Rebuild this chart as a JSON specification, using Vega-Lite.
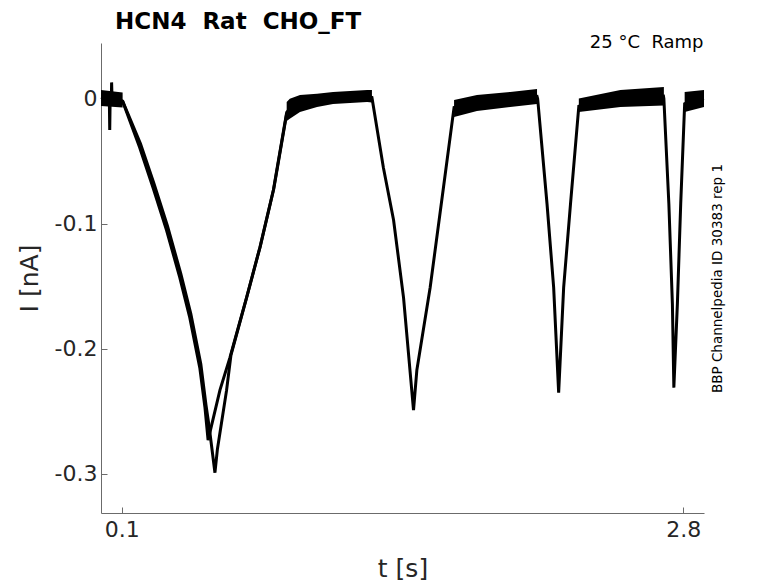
{
  "$schema": "https://vega.github.io/schema/vega-lite/v6.json",
  "width": 603,
  "height": 470,
  "autosize": {"type": "none"},
  "padding": {"left": 101, "top": 43, "right": 74, "bottom": 70},
  "background": "white",
  "config": {
    "view": {"stroke": null},
    "font": "DejaVu Sans"
  },
  "title": {
    "text": "HCN4\u00a0 Rat\u00a0 CHO_FT",
    "anchor": "start",
    "frame": "group",
    "font": "DejaVu Sans",
    "fontSize": 23,
    "fontWeight": "bold",
    "color": "#000000",
    "baseline": "alphabetic",
    "dx": 14,
    "offset": -19
  },
  "datasets": {
    "trace": [
      {"sweep": "a", "t": 0.000, "i": 0.0010},
      {"sweep": "a", "t": 0.020, "i": 0.0000},
      {"sweep": "a", "t": 0.040, "i": 0.0010},
      {"sweep": "a", "t": 0.042, "i": -0.0250},
      {"sweep": "a", "t": 0.044, "i": 0.0000},
      {"sweep": "a", "t": 0.050, "i": 0.0020},
      {"sweep": "a", "t": 0.051, "i": 0.0130},
      {"sweep": "a", "t": 0.053, "i": 0.0010},
      {"sweep": "a", "t": 0.080, "i": 0.0000},
      {"sweep": "a", "t": 0.104, "i": -0.0020},
      {"sweep": "a", "t": 0.186, "i": -0.0390},
      {"sweep": "a", "t": 0.250, "i": -0.0710},
      {"sweep": "a", "t": 0.315, "i": -0.1050},
      {"sweep": "a", "t": 0.379, "i": -0.1430},
      {"sweep": "a", "t": 0.427, "i": -0.1750},
      {"sweep": "a", "t": 0.475, "i": -0.2150},
      {"sweep": "a", "t": 0.500, "i": -0.2470},
      {"sweep": "a", "t": 0.515, "i": -0.2730},
      {"sweep": "a", "t": 0.572, "i": -0.2330},
      {"sweep": "a", "t": 0.620, "i": -0.2070},
      {"sweep": "a", "t": 0.700, "i": -0.1590},
      {"sweep": "a", "t": 0.764, "i": -0.1190},
      {"sweep": "a", "t": 0.829, "i": -0.0730},
      {"sweep": "a", "t": 0.893, "i": -0.0110},
      {"sweep": "a", "t": 0.908, "i": -0.0080},
      {"sweep": "a", "t": 0.957, "i": -0.0038},
      {"sweep": "a", "t": 1.039, "i": -0.0013},
      {"sweep": "a", "t": 1.116, "i": 0.0006},
      {"sweep": "a", "t": 1.280, "i": 0.0022},
      {"sweep": "a", "t": 1.303, "i": 0.0010},
      {"sweep": "a", "t": 1.358, "i": -0.0550},
      {"sweep": "a", "t": 1.407, "i": -0.0970},
      {"sweep": "a", "t": 1.455, "i": -0.1590},
      {"sweep": "a", "t": 1.503, "i": -0.2490},
      {"sweep": "a", "t": 1.519, "i": -0.2170},
      {"sweep": "a", "t": 1.583, "i": -0.1510},
      {"sweep": "a", "t": 1.647, "i": -0.0710},
      {"sweep": "a", "t": 1.698, "i": -0.0070},
      {"sweep": "a", "t": 1.808, "i": -0.0034},
      {"sweep": "a", "t": 1.968, "i": -0.0006},
      {"sweep": "a", "t": 2.097, "i": 0.0018},
      {"sweep": "a", "t": 2.100, "i": 0.0000},
      {"sweep": "a", "t": 2.145, "i": -0.0840},
      {"sweep": "a", "t": 2.177, "i": -0.1510},
      {"sweep": "a", "t": 2.201, "i": -0.2350},
      {"sweep": "a", "t": 2.225, "i": -0.1510},
      {"sweep": "a", "t": 2.258, "i": -0.0840},
      {"sweep": "a", "t": 2.298, "i": -0.0060},
      {"sweep": "a", "t": 2.498, "i": 0.0002},
      {"sweep": "a", "t": 2.705, "i": 0.0020},
      {"sweep": "a", "t": 2.707, "i": 0.0000},
      {"sweep": "a", "t": 2.731, "i": -0.0840},
      {"sweep": "a", "t": 2.748, "i": -0.1640},
      {"sweep": "a", "t": 2.755, "i": -0.2310},
      {"sweep": "a", "t": 2.772, "i": -0.1640},
      {"sweep": "a", "t": 2.788, "i": -0.0840},
      {"sweep": "a", "t": 2.807, "i": -0.0040},
      {"sweep": "a", "t": 2.850, "i": -0.0010},
      {"sweep": "a", "t": 2.900, "i": 0.0002},
      {"sweep": "b", "t": 0.104, "i": -0.0020},
      {"sweep": "b", "t": 0.190, "i": -0.0360},
      {"sweep": "b", "t": 0.255, "i": -0.0680},
      {"sweep": "b", "t": 0.320, "i": -0.1020},
      {"sweep": "b", "t": 0.384, "i": -0.1400},
      {"sweep": "b", "t": 0.432, "i": -0.1720},
      {"sweep": "b", "t": 0.480, "i": -0.2120},
      {"sweep": "b", "t": 0.505, "i": -0.2450},
      {"sweep": "b", "t": 0.520, "i": -0.2620},
      {"sweep": "b", "t": 0.548, "i": -0.2990},
      {"sweep": "b", "t": 0.560, "i": -0.2800},
      {"sweep": "b", "t": 0.604, "i": -0.2330},
      {"sweep": "b", "t": 0.625, "i": -0.2050},
      {"sweep": "b", "t": 0.702, "i": -0.1580},
      {"sweep": "b", "t": 0.766, "i": -0.1180},
      {"sweep": "b", "t": 0.831, "i": -0.0720},
      {"sweep": "b", "t": 0.893, "i": -0.0120}
    ],
    "noise": [
      {"seg": "p1", "t": 0.000, "lo": -0.0058, "hi": 0.0070},
      {"seg": "p1", "t": 0.104, "lo": -0.0070, "hi": 0.0050},
      {"seg": "p2", "t": 0.893, "lo": -0.0178, "hi": -0.0026},
      {"seg": "p2", "t": 0.908, "lo": -0.0160, "hi": 0.0000},
      {"seg": "p2", "t": 0.957, "lo": -0.0106, "hi": 0.0030},
      {"seg": "p2", "t": 1.039, "lo": -0.0066, "hi": 0.0040},
      {"seg": "p2", "t": 1.116, "lo": -0.0042, "hi": 0.0054},
      {"seg": "p2", "t": 1.280, "lo": -0.0026, "hi": 0.0070},
      {"seg": "p2", "t": 1.303, "lo": -0.0030, "hi": 0.0070},
      {"seg": "p3", "t": 1.698, "lo": -0.0146, "hi": -0.0010},
      {"seg": "p3", "t": 1.808, "lo": -0.0098, "hi": 0.0030},
      {"seg": "p3", "t": 1.968, "lo": -0.0066, "hi": 0.0054},
      {"seg": "p3", "t": 2.097, "lo": -0.0042, "hi": 0.0078},
      {"seg": "p4", "t": 2.298, "lo": -0.0106, "hi": 0.0001},
      {"seg": "p4", "t": 2.498, "lo": -0.0066, "hi": 0.0070},
      {"seg": "p4", "t": 2.707, "lo": -0.0055, "hi": 0.0094},
      {"seg": "p5", "t": 2.807, "lo": -0.0106, "hi": 0.0054},
      {"seg": "p5", "t": 2.900, "lo": -0.0066, "hi": 0.0070}
    ]
  },
  "layer": [
    {
      "data": {"name": "noise"},
      "mark": {"type": "area", "color": "#000000", "opacity": 1},
      "encoding": {
        "x": {
          "field": "t",
          "type": "quantitative",
          "scale": {"domain": [0, 2.9], "nice": false, "zero": false},
          "axis": {
            "orient": "top",
            "title": "25 °C\u00a0 Ramp",
            "labels": false,
            "ticks": false,
            "domain": false,
            "grid": false,
            "titleFont": "DejaVu Sans",
            "titleFontSize": 18,
            "titleFontWeight": "normal",
            "titleColor": "#000000",
            "titleAlign": "right",
            "titleBaseline": "alphabetic",
            "titleAnchor": "end",
            "titleX": 602,
            "titleY": 4
          }
        },
        "y": {
          "field": "lo",
          "type": "quantitative",
          "scale": {"domain": [-0.3312, 0.0445], "nice": false, "zero": false},
          "axis": {
            "orient": "right",
            "title": "BBP Channelpedia ID 30383 rep 1",
            "labels": false,
            "ticks": false,
            "domain": false,
            "grid": false,
            "titleFont": "DejaVu Sans",
            "titleFontSize": 13.5,
            "titleFontWeight": "normal",
            "titleColor": "#000000",
            "titleAngle": 270,
            "titleAlign": "center",
            "titleBaseline": "alphabetic",
            "titleX": 17.5,
            "titleY": 235
          }
        },
        "y2": {"field": "hi"},
        "detail": {"field": "seg"}
      }
    },
    {
      "data": {"name": "trace"},
      "mark": {"type": "line", "color": "#000000", "strokeWidth": 3, "strokeJoin": "miter"},
      "encoding": {
        "x": {
          "field": "t",
          "type": "quantitative",
          "scale": {"domain": [0, 2.9], "nice": false, "zero": false},
          "axis": {
            "orient": "bottom",
            "title": "t [s]",
            "values": [0.1, 2.8],
            "labelExpr": "toString(datum.value)",
            "grid": false,
            "domainColor": "#6b6b6b",
            "tickColor": "#6b6b6b",
            "tickSize": -6,
            "labelFont": "DejaVu Sans",
            "labelFontSize": 22,
            "labelColor": "#262626",
            "labelPadding": 12,
            "titleFont": "DejaVu Sans",
            "titleFontSize": 25,
            "titleFontWeight": "normal",
            "titleColor": "#262626",
            "titleBaseline": "alphabetic",
            "titleY": 63
          }
        },
        "y": {
          "field": "i",
          "type": "quantitative",
          "scale": {"domain": [-0.3312, 0.0445], "nice": false, "zero": false},
          "axis": {
            "orient": "left",
            "title": "I [nA]",
            "values": [-0.3, -0.2, -0.1, 0],
            "labelExpr": "toString(datum.value)",
            "grid": false,
            "domainColor": "#6b6b6b",
            "tickColor": "#6b6b6b",
            "tickSize": -6,
            "labelFont": "DejaVu Sans",
            "labelFontSize": 22,
            "labelColor": "#262626",
            "labelPadding": 10,
            "titleFont": "DejaVu Sans",
            "titleFontSize": 25,
            "titleFontWeight": "normal",
            "titleColor": "#262626",
            "titleAngle": 270,
            "titleBaseline": "alphabetic",
            "titleX": -64
          }
        },
        "detail": {"field": "sweep"}
      }
    }
  ],
  "resolve": {"axis": {"x": "independent", "y": "independent"}}
}
